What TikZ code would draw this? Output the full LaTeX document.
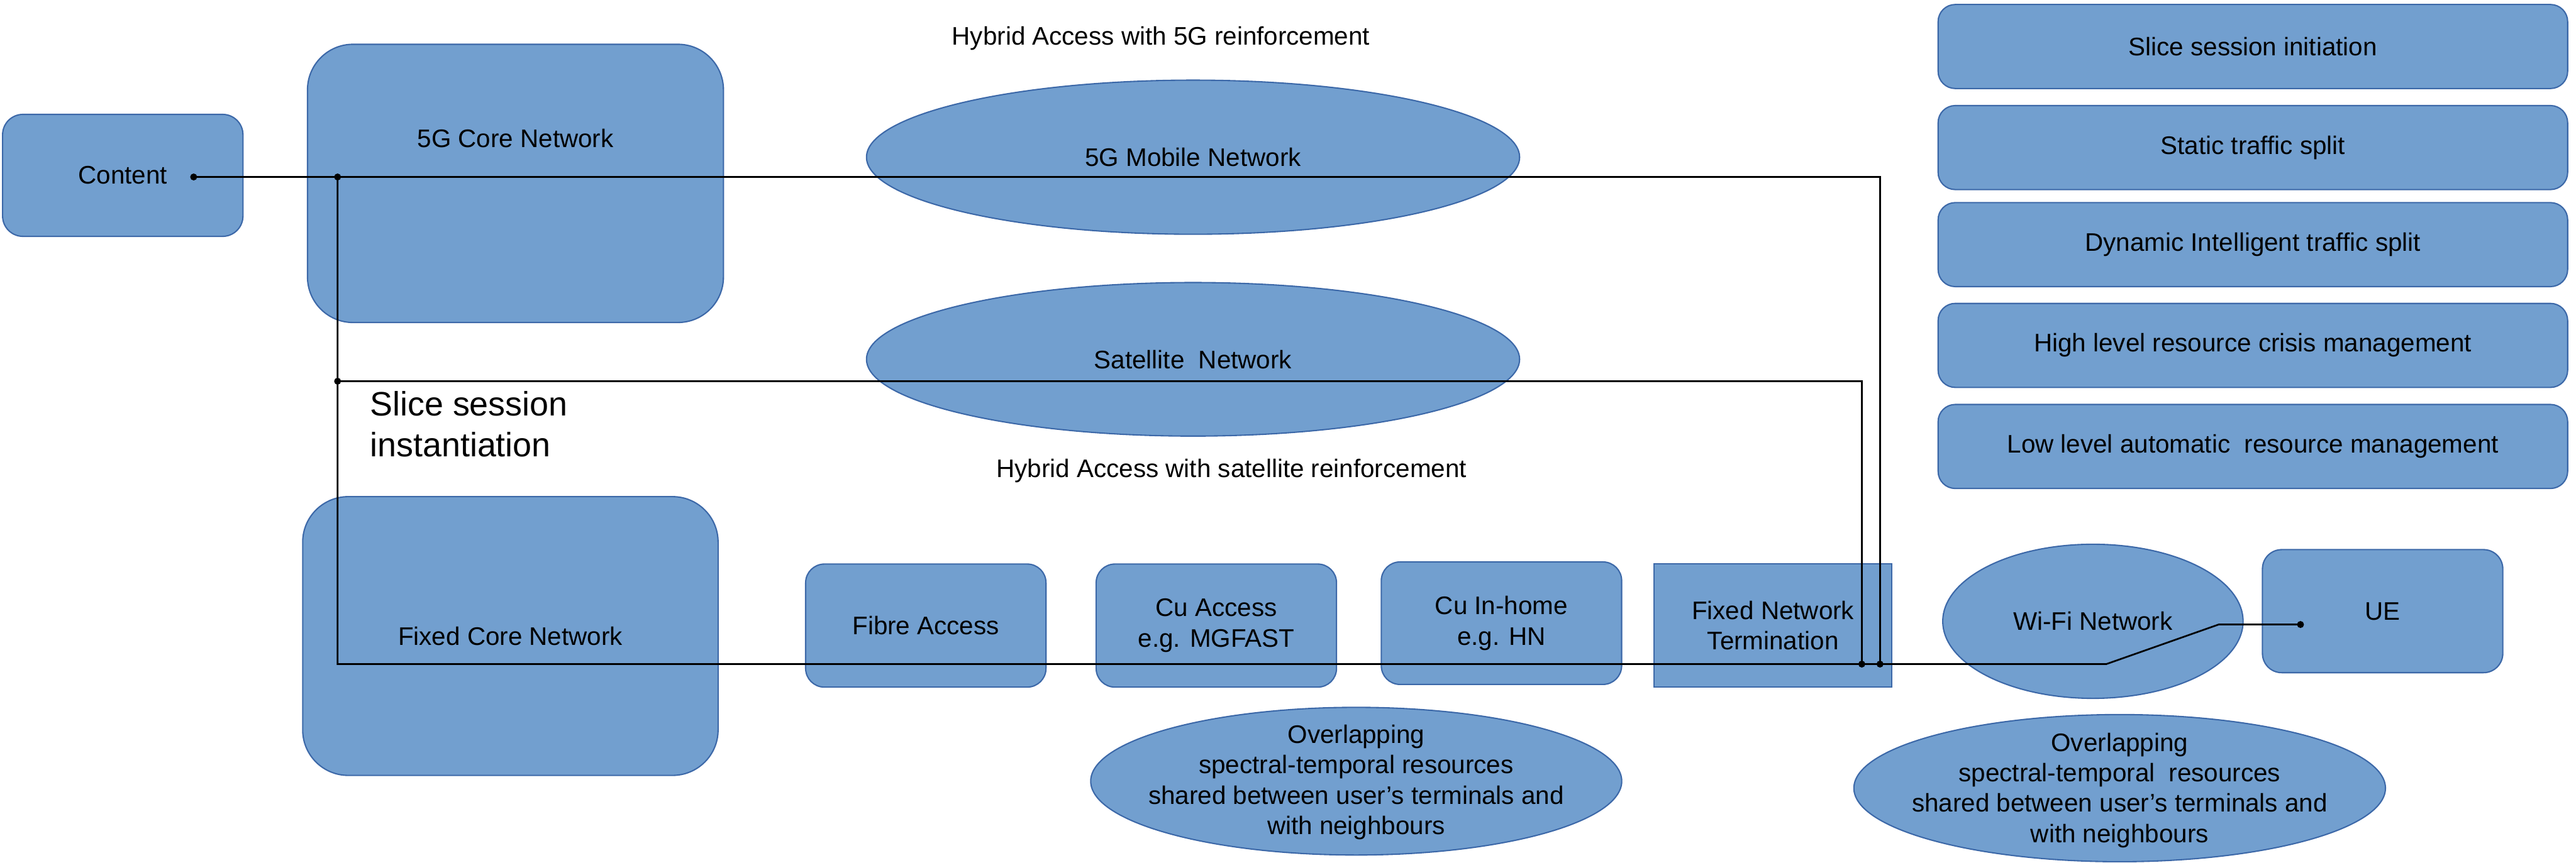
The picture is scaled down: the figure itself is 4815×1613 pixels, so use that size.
\documentclass[tikz,border=0pt]{standalone}
\usepackage{fontspec}
\setmainfont{Liberation Sans}
\usetikzlibrary{shapes.geometric}
\definecolor{boxfill}{RGB}{114,159,207}
\definecolor{boxline}{RGB}{60,104,168}
\begin{document}
\begin{tikzpicture}[x=0.01cm,y=-0.01cm,
  every node/.style={font=\fontsize{13.5}{16.2}\selectfont, text=black},
  blk/.style={draw=boxline, fill=boxfill, line width=0.7pt, inner sep=0pt, align=center},
  rbox/.style={blk, rounded corners=#1},
  rbox/.default=0.35cm,
  oval/.style={blk, ellipse},
  lbl/.style={align=center, inner sep=0pt},
  big/.style={font=\fontsize{18}{21.6}\selectfont},
  wire/.style={line width=0.9pt, black},
]
\useasboundingbox (0,0) rectangle (4815,1613);

% cores and content
\node[rbox=0.38cm, minimum width=4.49cm, minimum height=2.28cm] (content) at (229.5,328) {Content};
\node[rbox=0.85cm, minimum width=7.77cm, minimum height=5.20cm] (core5g) at (963.5,343) {};
\node[lbl] at ([yshift=0.84cm]core5g.center) {5G Core Network};
\node[rbox=0.85cm, minimum width=7.76cm, minimum height=5.21cm] (corefix) at (954,1189.5) {Fixed Core Network};

% wireless access networks
\node[lbl] (hyb5g) at (2170,72) {Hybrid Access with 5G reinforcement};
\node[oval, minimum width=12.20cm, minimum height=2.88cm] (mob5g) at (2230,294) {5G Mobile Network};
\node[oval, minimum width=12.20cm, minimum height=2.87cm] (sat) at (2230,672) {Satellite\ \ Network};
\node[lbl] (hybsat) at (2302,880) {Hybrid Access with satellite reinforcement};

\node[lbl, big, align=left, anchor=west] (inst) at (691,793) {Slice session\\instantiation};

% fixed access chain
\node[rbox, minimum width=4.49cm, minimum height=2.30cm] (fibre) at (1730.5,1170) {Fibre Access};
\node[rbox, minimum width=4.49cm, minimum height=2.30cm] (cuacc) at (2273.5,1170) {Cu Access\\e.g. MGFAST};
\node[rbox, minimum width=4.49cm, minimum height=2.29cm] (cuhome) at (2806.5,1165.5) {Cu In-home\\e.g. HN};
\node[blk, minimum width=4.44cm, minimum height=2.30cm] (fnt) at (3314,1170) {Fixed Network\\Termination};
\node[oval, minimum width=5.61cm, minimum height=2.88cm] (wifi) at (3912,1162) {Wi-Fi Network};
\node[rbox=0.36cm, minimum width=4.49cm, minimum height=2.30cm] (ue) at (4453.5,1143) {UE};

% shared spectrum pools (text set on top, so the ellipse keeps its size)
\node[oval, minimum width=9.92cm, minimum height=2.76cm] (ovl1) at (2535,1461) {};
\node[lbl] at ([yshift=-0.02cm]ovl1.center)
  {Overlapping\\spectral-temporal resources\\shared between user’s terminals and\\with neighbours};
\node[oval, minimum width=9.93cm, minimum height=2.75cm] (ovl2) at (3962,1474) {};
\node[lbl] at ([yshift=-0.04cm]ovl2.center)
  {Overlapping\\spectral-temporal\ \ resources\\shared between user’s terminals and\\with neighbours};

% management functions
\node[rbox=0.32cm, minimum width=11.76cm, minimum height=1.57cm] (f1) at (4211,87) {Slice session initiation};
\node[rbox=0.32cm, minimum width=11.76cm, minimum height=1.57cm] (f2) at (4211,276) {Static traffic split};
\node[rbox=0.32cm, minimum width=11.76cm, minimum height=1.57cm] (f3) at (4211,457.5) {Dynamic Intelligent traffic split};
\node[rbox=0.32cm, minimum width=11.76cm, minimum height=1.57cm] (f4) at (4211,646) {High level resource crisis management};
\node[rbox=0.32cm, minimum width=11.76cm, minimum height=1.57cm] (f5) at (4211,835) {Low level automatic\ \ resource management};

% traffic paths
\coordinate (cdot) at (362,331);
\coordinate (j1) at (631,331);
\coordinate (j2) at (631,713);
\coordinate (r1) at (3514,331);
\coordinate (t2) at (3514,1242);
\coordinate (r2) at (3480,713);
\coordinate (t1) at (3480,1242);
\coordinate (jb) at (631,1242);
\coordinate (bend) at (3937,1242);
\coordinate (kink) at (4147,1168);
\coordinate (uedot) at (4300,1168);

\draw[wire] (cdot) -- (r1) -- (t2);
\draw[wire] (j1) -- (jb) -- (bend) -- (kink) -- (uedot);
\draw[wire] (j2) -- (r2) -- (t1);
\foreach \p in {cdot,j1,j2,t1,t2,uedot} \fill (\p) circle (0.065cm);
\end{tikzpicture}
\end{document}
